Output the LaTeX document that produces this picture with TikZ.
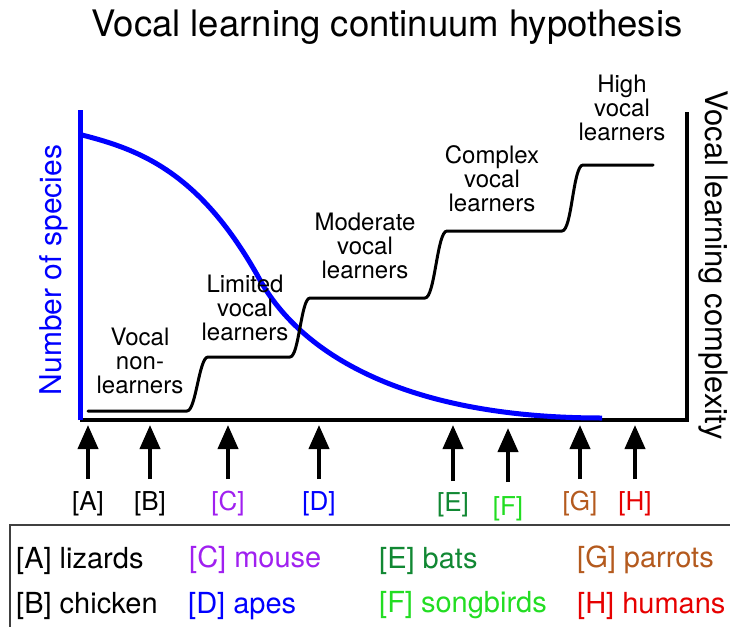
\documentclass[tikz,border=0pt]{standalone}
\usepackage{fontspec}
\setmainfont{TeX Gyre Heros}
\usetikzlibrary{arrows.meta}
\definecolor{cpurple}{HTML}{A020F0}
\definecolor{cblue}{HTML}{0000FF}
\definecolor{cdgreen}{HTML}{118833}
\definecolor{cgreen}{HTML}{22DD22}
\definecolor{cbrown}{HTML}{B45A1E}
\definecolor{cred}{HTML}{E60000}
\begin{document}
\begin{tikzpicture}[x={(1pt,0)},y={(0,-1pt)},
  stage/.style={align=center,inner sep=0pt,anchor=north,font=\fontsize{24}{24}\selectfont},
  tag/.style={inner sep=0pt,anchor=base,font=\fontsize{26}{26}\selectfont},
  legend/.style={inner sep=0pt,anchor=base west,font=\fontsize{29}{29}\selectfont},
  uparrow/.style={line width=4pt,-{Triangle[length=24pt,width=20pt]}},
  axis/.style={line width=3.5pt},
  stepline/.style={line width=3pt,line cap=round,line join=round}]
\useasboundingbox (0,0) rectangle (730,626);
% title
\node[inner sep=0pt,anchor=base,font=\fontsize{36.5}{36.5}\selectfont] (title) at (387,37) {Vocal learning continuum hypothesis};
% axes
\coordinate (o) at (80,420);
\coordinate (btop) at (80,110);
\coordinate (rb) at (687,420);
\coordinate (rt) at (687,112);
\draw[axis] (o) -- (rb) -- (rt);
\draw[line width=5pt,cblue] (o) -- (btop);
% axis labels
\node[inner sep=0pt,anchor=base,rotate=90,text=cblue,font=\fontsize{30}{30}\selectfont] (ylab) at (61,270) {Number of species};
\node[inner sep=0pt,anchor=base,rotate=-90,font=\fontsize{31}{31}\selectfont] (rlab) at (705,265) {Vocal learning complexity};
% blue curve
\coordinate (c0) at (82,135);
\coordinate (cm) at (260,280);
\coordinate (c1) at (602,418);
\draw[line width=5pt,cblue] (c0) .. controls (141,150) and (201,173) .. (cm)
  .. controls (300,352) and (402,418) .. (c1);
% step curve
\draw[stepline] (88,411) -- (187,411) .. controls (196,411) and (199,357) .. (208,357) -- (290,357)
  .. controls (299,357) and (301,298) .. (310,298) -- (425,298)
  .. controls (435,298) and (437,231) .. (447,231) -- (562,231)
  .. controls (572,231) and (573,165) .. (583,165) -- (653,165);
% stage labels
\node[stage] (s1) at (140,328) {Vocal\\non-\\learners};
\node[stage] (s2) at (245,275) {Limited\\vocal\\learners};
\node[stage] (s3) at (365,213) {Moderate\\vocal\\learners};
\node[stage] (s4) at (492,145) {Complex\\vocal\\learners};
\node[stage] (s5) at (622,75) {High\\vocal\\learners};
% arrows and tags
\foreach \n/\x/\yt/\yb/\yl/\c/\t in {a/88/425/479/510/black/A, b/150/425/479/510/black/B, c/228/425/479/510/cpurple/C, d/319/425/479/510/cblue/D, e/453/425/481/511/cdgreen/E, f/508/428/482/515/cgreen/F, g/580/425/479/510/cbrown/G, h/635/425/479/510/cred/H}{
  \coordinate (tail\n) at (\x,\yb);
  \coordinate (tip\n) at (\x,\yt);
  \draw[uparrow] (tail\n) -- (tip\n);
  \node[tag,text=\c] (tag\n) at (\x,\yl) {[\t]};
}
% legend box
\coordinate (lb1) at (10,525);
\coordinate (lb2) at (745,640);
\draw[line width=1.5pt,black!75] (lb1) rectangle (lb2);
\node[legend] (la) at (16,568) {[A] lizards};
\node[legend] (lbb) at (16,613) {[B] chicken};
\node[legend,text=cpurple] (lc) at (189,567) {[C] mouse};
\node[legend,text=cblue] (ld) at (188,613) {[D] apes};
\node[legend,text=cdgreen] (le) at (379,568) {[E] bats};
\node[legend,text=cgreen] (lf) at (379,612) {[F] songbirds};
\node[legend,text=cbrown] (lg) at (577,567) {[G] parrots};
\node[legend,text=cred] (lh) at (577,613) {[H] humans};
\end{tikzpicture}
\end{document}
